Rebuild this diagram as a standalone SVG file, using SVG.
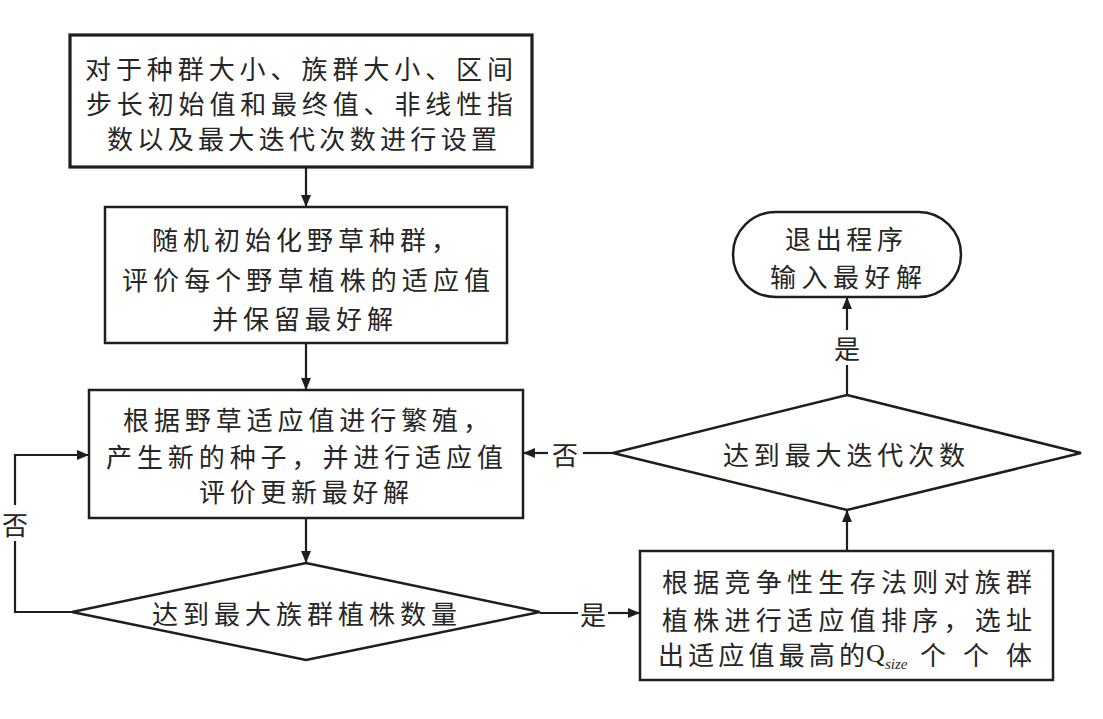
<svg xmlns="http://www.w3.org/2000/svg" width="1103" height="719" viewBox="0 0 1103 719">
<style>
.box{fill:#fff;stroke:#1e1e1e;stroke-width:2.5}
.thick{stroke-width:3.2}
.t{font-family:"Noto Sans CJK SC","Noto Sans",sans-serif;font-size:26px;fill:#262626;dominant-baseline:central}
.lbl{font-family:"Noto Sans CJK SC","Noto Sans",sans-serif;font-size:26px;fill:#262626;dominant-baseline:central;text-anchor:middle}
.c{fill:none;stroke:#1e1e1e;stroke-width:2.2}
</style>
<defs>
<marker id="ah" viewBox="0 0 12 10" refX="12" refY="5" markerWidth="12" markerHeight="10" orient="auto" markerUnits="userSpaceOnUse">
<path d="M0,0 L12,5 L0,10 z" fill="#1e1e1e"/>
</marker>
</defs>
<rect width="1103" height="719" fill="#fff"/>

<g id="connectors">
<path class="c" d="M306,167 V207" marker-end="url(#ah)"/>
<path class="c" d="M306,343 V390" marker-end="url(#ah)"/>
<path class="c" d="M306,518 V563" marker-end="url(#ah)"/>
<path class="c" d="M72,612 H15 V541"/>
<path class="c" d="M15,505 V455 H89" marker-end="url(#ah)"/>
<text class="lbl" x="15" y="523">否</text>
<path class="c" d="M540,613 H578"/>
<path class="c" d="M608,613 H640" marker-end="url(#ah)"/>
<text class="lbl" x="593" y="613">是</text>
<path class="c" d="M847,551 V510" marker-end="url(#ah)"/>
<path class="c" d="M613,453 H583"/>
<path class="c" d="M548,453 H523" marker-end="url(#ah)"/>
<text class="lbl" x="565" y="453">否</text>
<path class="c" d="M847,395 V365"/>
<path class="c" d="M847,330 V297" marker-end="url(#ah)"/>
<text class="lbl" x="847" y="347">是</text>
</g>

<g id="n1">
<rect class="box thick" x="70" y="35" width="462" height="132"/>
<text class="t" x="85" y="67" textLength="428" lengthAdjust="spacing">对于种群大小、族群大小、区间</text>
<text class="t" x="86" y="102" textLength="427" lengthAdjust="spacing">步长初始值和最终值、非线性指</text>
<text class="t" x="107" y="137" textLength="390" lengthAdjust="spacing">数以及最大迭代次数进行设置</text>
</g>

<g id="n2">
<rect class="box" x="105" y="207" width="402" height="136"/>
<text class="t" x="152" y="238" textLength="305" lengthAdjust="spacing">随机初始化野草种群，</text>
<text class="t" x="122" y="278" textLength="368" lengthAdjust="spacing">评价每个野草植株的适应值</text>
<text class="t" x="212" y="317" textLength="181" lengthAdjust="spacing">并保留最好解</text>
</g>

<g id="n3">
<rect class="box" x="89" y="390" width="434" height="128"/>
<text class="t" x="123" y="418" textLength="366" lengthAdjust="spacing">根据野草适应值进行繁殖，</text>
<text class="t" x="106" y="455" textLength="397" lengthAdjust="spacing">产生新的种子，并进行适应值</text>
<text class="t" x="199" y="490" textLength="210" lengthAdjust="spacing">评价更新最好解</text>
</g>

<g id="n4">
<polygon class="box" points="306,563 540,612 306,660 72,612"/>
<text class="t" x="152" y="612" textLength="305" lengthAdjust="spacing">达到最大族群植株数量</text>
</g>

<g id="n5">
<rect class="box" x="640" y="551" width="413" height="129"/>
<text class="t" x="662" y="580" textLength="370" lengthAdjust="spacing">根据竞争性生存法则对族群</text>
<text class="t" x="662" y="618" textLength="370" lengthAdjust="spacing">植株进行适应值排序，选址</text>
<text class="t" x="658" y="653" textLength="207" lengthAdjust="spacing">出适应值最高的</text>
<text x="866" y="662" font-family="Liberation Serif, serif" font-size="26" fill="#262626">Q</text>
<text x="885" y="669" font-family="Liberation Serif, serif" font-size="15" font-style="italic" fill="#262626">size</text>
<text class="t" x="920" y="653" textLength="112" lengthAdjust="spacing">个个体</text>
</g>

<g id="n6">
<polygon class="box" points="847,395 1081,453 847,510 613,453"/>
<text class="t" x="723" y="453" textLength="242" lengthAdjust="spacing">达到最大迭代次数</text>
</g>

<g id="n7">
<rect class="box" x="733" y="212" width="228" height="85" rx="42.5" ry="42.5"/>
<text class="t" x="785" y="237" textLength="118" lengthAdjust="spacing">退出程序</text>
<text class="t" x="770" y="275" textLength="152" lengthAdjust="spacing">输入最好解</text>
</g>
</svg>
